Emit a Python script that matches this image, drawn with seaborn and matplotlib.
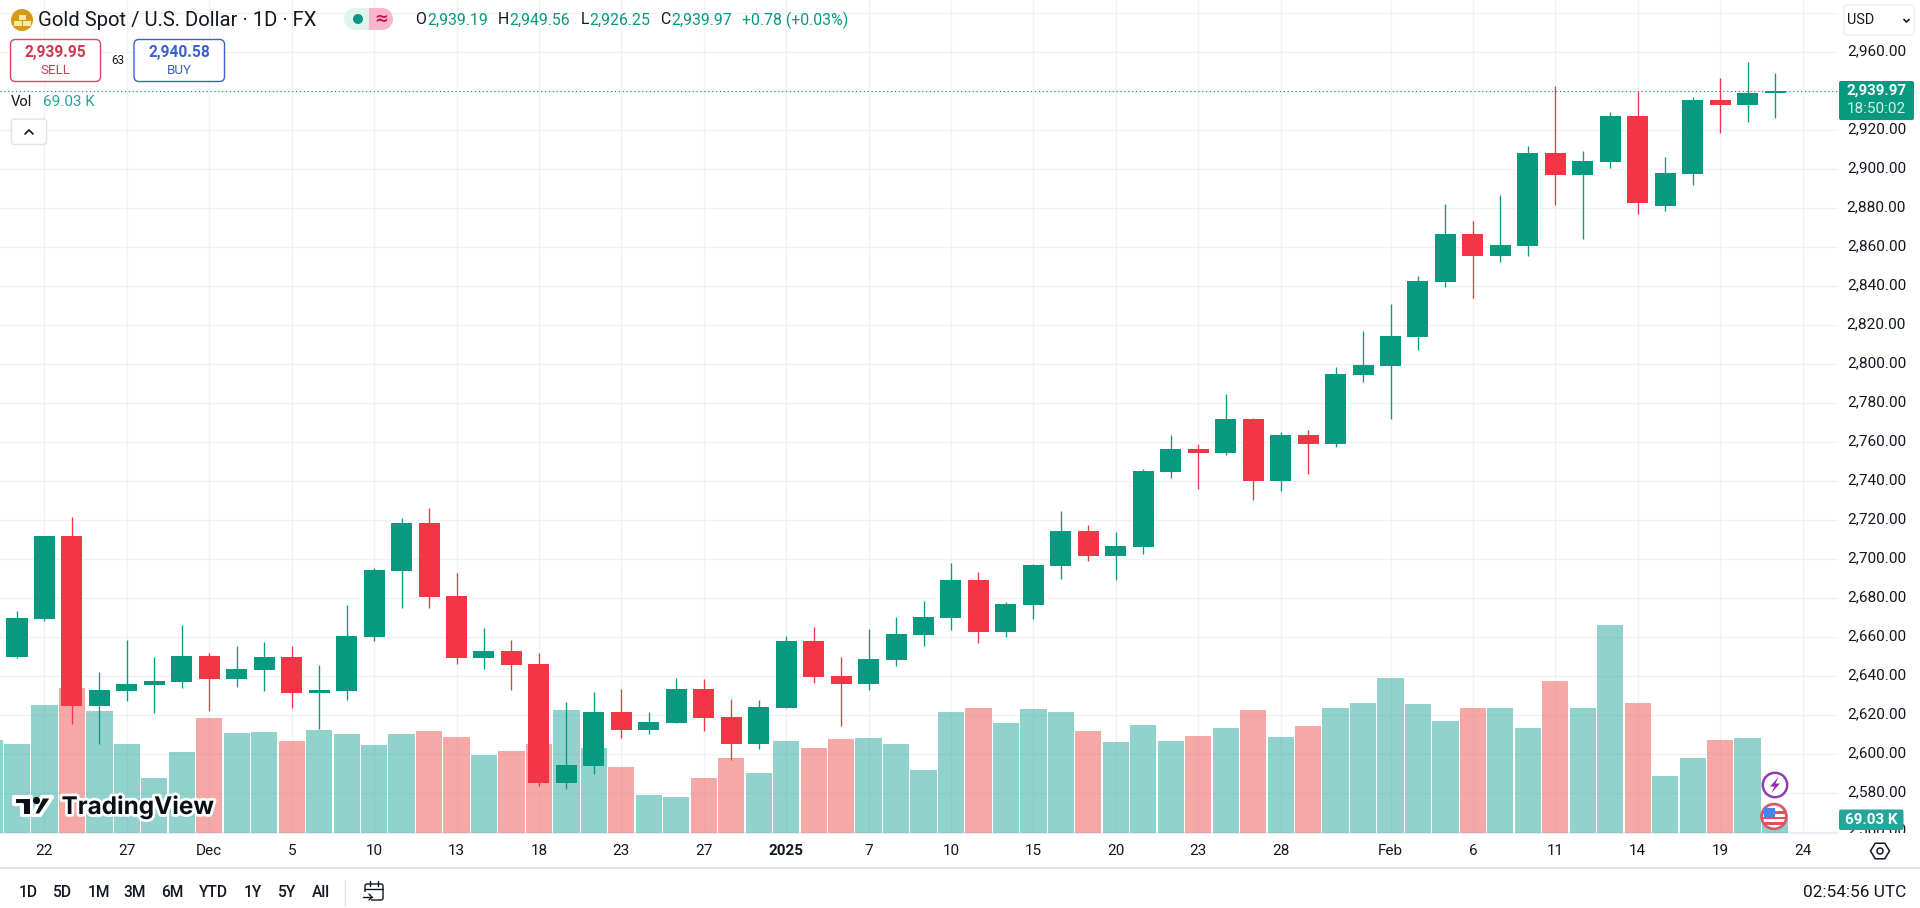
import matplotlib
matplotlib.use("Agg")
import matplotlib.pyplot as plt
import matplotlib.patheffects as pe
from matplotlib.patches import Circle, FancyBboxPatch, Polygon, Rectangle, Wedge
from matplotlib.transforms import ScaledTranslation
import numpy as np
import pandas as pd
import seaborn as sns

# Daily candles, 21 Nov 2024 to 21 Feb 2025
opens = [2650.1, 2669.6, 2712.0, 2624.8, 2632.5, 2635.6, 2637.1, 2650.4, 2638.6, 2643.3,
         2649.9, 2631.5, 2632.5, 2660.4, 2694.2, 2718.6, 2681.2, 2649.4, 2653.0, 2646.3,
         2585.3, 2594.0, 2621.7, 2612.5, 2616.1, 2633.5, 2619.1, 2605.3, 2623.8, 2658.1,
         2640.2, 2636.1, 2648.4, 2661.2, 2669.9, 2689.4, 2662.7, 2676.6, 2696.6, 2714.5,
         2701.7, 2706.3, 2744.8, 2756.6, 2754.5, 2772.0, 2740.2, 2763.8, 2759.2, 2794.5,
         2799.1, 2814.0, 2842.2, 2866.8, 2855.5, 2860.6, 2908.3, 2897.1, 2903.7, 2927.3,
         2881.2, 2897.6, 2935.5, 2933.0, 2939.19]
highs = [2673.7, 2712.0, 2721.9, 2642.2, 2658.6, 2649.9, 2666.3, 2651.8, 2655.6, 2657.6,
         2655.6, 2645.8, 2676.6, 2695.6, 2721.2, 2726.3, 2693.0, 2664.8, 2658.6, 2652.0,
         2626.9, 2632.0, 2633.5, 2621.7, 2639.1, 2638.6, 2628.4, 2627.9, 2660.7, 2665.3,
         2649.9, 2664.3, 2670.4, 2678.6, 2698.1, 2693.5, 2678.1, 2697.6, 2724.8, 2717.6,
         2714.0, 2746.3, 2763.8, 2759.1, 2785.0, 2772.5, 2765.3, 2766.3, 2798.7, 2817.1,
         2830.9, 2845.3, 2882.2, 2873.5, 2886.8, 2911.9, 2942.7, 2909.4, 2929.4, 2940.1,
         2906.3, 2937.0, 2946.8, 2955.0, 2949.56]
lows = [2649.2, 2668.6, 2615.6, 2605.3, 2627.4, 2621.4, 2634.2, 2622.4, 2634.7, 2632.5,
        2623.8, 2613.0, 2627.9, 2658.1, 2675.1, 2675.1, 2646.3, 2643.8, 2633.0, 2583.8,
        2582.2, 2589.9, 2608.4, 2610.4, 2616.0, 2612.0, 2597.1, 2602.7, 2623.8, 2636.6,
        2614.5, 2633.0, 2645.3, 2655.5, 2663.8, 2657.1, 2660.2, 2669.4, 2689.9, 2699.1,
        2689.4, 2702.7, 2741.7, 2736.1, 2753.5, 2730.4, 2735.0, 2743.8, 2757.6, 2791.0,
        2772.0, 2807.3, 2839.6, 2834.0, 2852.4, 2855.5, 2881.7, 2864.2, 2900.6, 2877.1,
        2878.6, 2891.9, 2918.6, 2924.2, 2926.25]
closes = [2669.9, 2712.0, 2624.8, 2633.0, 2636.1, 2637.8, 2650.4, 2638.6, 2643.8, 2649.9,
          2631.6, 2633.0, 2660.7, 2694.5, 2718.6, 2680.7, 2649.4, 2653.0, 2645.8, 2585.3,
          2594.5, 2621.7, 2612.5, 2616.6, 2633.5, 2618.6, 2605.3, 2624.3, 2658.1, 2639.6,
          2636.1, 2648.9, 2661.7, 2670.4, 2689.4, 2662.7, 2677.1, 2697.1, 2714.5, 2701.7,
          2706.8, 2745.3, 2756.6, 2754.5, 2772.0, 2740.2, 2763.8, 2759.2, 2795.1, 2799.6,
          2814.5, 2842.7, 2866.8, 2855.5, 2861.2, 2908.3, 2897.1, 2904.2, 2927.3, 2882.7,
          2898.1, 2935.5, 2933.0, 2939.1, 2939.97]

# Volume in thousands, first value is the cut off bar at the left edge
volumes = [467, 447, 644, 729, 613, 447, 276, 407, 578, 502, 508, 462, 518, 497, 442, 497,
           513, 482, 392, 412, 447, 618, 427, 331, 190, 180, 276, 376, 301, 462, 427, 472,
           477, 447, 316, 608, 628, 553, 623, 608, 513, 457, 543, 462, 487, 528, 618, 482,
           538, 628, 654, 780, 649, 563, 628, 628, 528, 765, 628, 1047, 654, 286, 376, 467,
           477, 69.03]
volume_up = [1, 1, 1, 0, 1, 1, 1, 1, 0, 1, 1, 0, 1, 1, 1, 1, 0, 0, 1, 0, 0, 1, 1, 0, 1, 1,
             0, 0, 1, 1, 0, 0, 1, 1, 1, 1, 0, 1, 1, 1, 0, 1, 1, 1, 0, 1, 0, 1, 0, 1, 1, 1, 1,
             1, 0, 1, 1, 0, 1, 1, 0, 1, 1, 0, 1, 1]

tick_bars = [1, 4, 7, 10, 13, 16, 19, 22, 25, 28, 31, 34, 37, 40, 43, 46, 50, 53, 56, 59, 62, 65]
tick_labels = ["22", "27", "Dec", "5", "10", "13", "18", "23", "27", "2025", "7", "10", "15",
               "20", "23", "28", "Feb", "6", "11", "14", "19", "24"]
price_levels = list(range(2560, 2981, 20))
ranges = ["1D", "5D", "1M", "3M", "6M", "YTD", "1Y", "5Y", "All"]

GREEN = "#089981"
RED = "#f23645"
TEAL = "#26a69a"
INK = "#131722"
GRID = "#f1f2f5"

sns.set_theme(style="white")
plt.rcParams["font.family"] = ["Roboto", "DejaVu Sans"]

W, H = 1920, 908
PANE_R, PANE_B = 1838, 832.7
fig = plt.figure(figsize=(19.2, 9.08), dpi=100, facecolor="white")
pos = [0, 1 - PANE_B / H, PANE_R / W, PANE_B / H]

ax_bg = fig.add_axes(pos, zorder=1)
ax_vol = fig.add_axes(pos, zorder=2, sharex=ax_bg)
ax_price = fig.add_axes(pos, zorder=3, sharex=ax_bg)
ov = fig.add_axes([0, 0, 1, 1], zorder=4)

xlim = (-17 / 27.47, (PANE_R - 17) / 27.47)
ylim = (2960 - (PANE_B - 52.3) / 1.95, 2960 + 52.3 / 1.95)

# grid and the two axes of tick labels
ax_bg.set_xlim(xlim)
ax_bg.set_ylim(ylim)
ax_bg.set_xticks(tick_bars)
ax_bg.set_xticklabels(tick_labels, fontsize=11, color=INK)
ax_bg.get_xticklabels()[tick_labels.index("2025")].set_fontweight("bold")
ax_bg.set_yticks(price_levels)
ax_bg.set_yticklabels(["" if p in (2560, 2980) else f"{p:,.2f}" for p in price_levels],
                      fontsize=11.1, color=INK, ha="right")
ax_bg.yaxis.tick_right()
ax_bg.tick_params(axis="y", length=0, pad=49)
ax_bg.tick_params(axis="x", length=0, pad=8)
ax_bg.grid(True, color=GRID, linewidth=1)
# price labels sit a little above their grid line
nudge = ScaledTranslation(0, 3 / 100, fig.dpi_scale_trans)
for lbl in ax_bg.get_yticklabels():
    lbl.set_transform(lbl.get_transform() + nudge)
for side in ["top", "left", "right"]:
    ax_bg.spines[side].set_visible(False)
ax_bg.spines["bottom"].set_color("#e9ecf3")

# volume bars
bars = np.arange(-1, len(closes))
df_vol = pd.DataFrame({"bar": bars, "volume": volumes,
                       "side": ["up" if u else "down" for u in volume_up]})
sns.barplot(data=df_vol, x="bar", y="volume", hue="side", native_scale=True, dodge=False,
            palette={"up": TEAL, "down": "#ef5350"}, alpha=0.5, saturation=1, width=0.955,
            linewidth=0, legend=False, ax=ax_vol)
ax_vol.set_ylim(0, PANE_B * 5.04)
ax_vol.set_xlim(xlim)
ax_vol.patch.set_visible(False)
ax_vol.axis("off")

# candles
df = pd.DataFrame({"bar": bars[1:], "open": opens, "high": highs, "low": lows, "close": closes})
df["color"] = np.where(df["close"] >= df["open"], GREEN, RED)
ax_price.vlines(df["bar"], df["low"], df["high"], colors=df["color"], linewidth=0.95)
ax_price.bar(df["bar"], (df["close"] - df["open"]).abs(), bottom=df[["open", "close"]].min(axis=1),
             width=0.765, color=df["color"], linewidth=0)
ax_price.axhline(closes[-1], color=GREEN, linestyle=(0, (1, 2.5)), linewidth=0.8, zorder=0)
ax_price.set_xlim(xlim)
ax_price.set_ylim(ylim)
ax_price.patch.set_visible(False)
ax_price.axis("off")

# everything else is page furniture, in pixel coordinates
ov.set_xlim(0, W)
ov.set_ylim(H, 0)
ov.patch.set_visible(False)
ov.axis("off")


def label(x, y, s, size=11, color=INK, ha="left", weight="normal", **kw):
    return ov.text(x, y, s, fontsize=size, color=color, ha=ha, va="center",
                   fontweight=weight, **kw)


def box(x0, y0, x1, y1, fc="none", ec="none", lw=1, r=3, zorder=1):
    ov.add_patch(FancyBboxPatch((x0 + r, y0 + r), x1 - x0 - 2 * r, y1 - y0 - 2 * r,
                                boxstyle=f"round,pad={r},rounding_size={r}",
                                fc=fc, ec=ec, lw=lw, zorder=zorder))


# header
ov.add_patch(Circle((22, 20), 11, fc="#d49a12", ec="none"))
for bx, by in [(18.5, 14.5), (14, 21), (23, 21)]:
    ov.add_patch(Rectangle((bx, by), 7.5, 5, fc="#f8e7b0", ec="none"))
label(38.5, 20, "Gold Spot / U.S. Dollar · 1D · FX", size=14.6)

ov.add_patch(Wedge((355, 19), 11, 90, 270, fc="#dff3ef", ec="none"))
ov.add_patch(Rectangle((355, 8), 14, 22, fc="#dff3ef", ec="none"))
ov.add_patch(Rectangle((369, 8), 13, 22, fc="#f9b6cc", ec="none"))
ov.add_patch(Wedge((382, 19), 11, -90, 90, fc="#f9b6cc", ec="none"))
ov.add_patch(Circle((358, 19), 5, fc=GREEN, ec="none"))
label(381, 19, "≈", size=12, color="#c2185b", ha="center", weight="bold", family="DejaVu Sans")

for x, key, xv, val in [(415, "O", 427, "2,939.19"), (498, "H", 509.5, "2,949.56"),
                        (580.5, "L", 589, "2,926.25"), (660, "C", 671.5, "2,939.97")]:
    label(x, 20, key, size=11.4)
    label(xv, 20, val, color=GREEN, size=11.4)
label(741.5, 20, "+0.78 (+0.03%)", color=GREEN, size=11.4)

box(10.5, 39.5, 100.5, 81.5, fc="white", ec="#d8475c", lw=1, r=5)
box(134, 39.5, 224.5, 81.5, fc="white", ec="#3a62c4", lw=1, r=5)
label(55, 53, "2,939.95", color="#d0384f", ha="center", weight="bold", size=11.2)
label(55, 70.5, "SELL", color="#d0384f", ha="center", size=9.6)
label(179.5, 53, "2,940.58", color="#3b5fcf", ha="center", weight="bold", size=11.2)
label(179.5, 70.5, "BUY", color="#3b5fcf", ha="center", size=9.6)
label(117.5, 60, "63", size=8.4, ha="center")

label(11, 102, "Vol", size=10.6)
label(43, 102, "69.03 K", color=TEAL, size=11)
box(11.5, 119, 46.5, 144.5, fc="white", ec="#e0e3eb", lw=1, r=3)
ov.plot([25, 29, 33], [134, 130, 134], color=INK, lw=1.2)

# right hand price scale furniture
box(1844, 5, 1914.5, 35, fc="white", ec="#eceef3", lw=1, r=4)
label(1847.5, 20.5, "USD", size=10.4)
ov.plot([1904, 1906.5, 1909], [19.5, 22, 19.5], color=INK, lw=1.2)
box(1839, 81, 1914, 120, fc=GREEN, r=2)
label(1906.5, 90.8, "2,939.97", color="white", ha="right", weight="bold", size=11)
label(1906.5, 108.8, "18:50:02", color="#d5f0ea", ha="right", size=11)

# 2,560.00 is cut by the bottom of the pane and hidden by the volume label
cut = label(1906.5, 830, f"{price_levels[0]:,.2f}", ha="right", size=11.1, zorder=2)
cut.set_clip_path(Rectangle((1839, 0), 81, PANE_B, transform=ov.transData))
cut.set_clip_on(True)
box(1839, 809.5, 1903.5, 830, fc=TEAL, r=2, zorder=3)
label(1871.5, 819.8, "69.03 K", color="white", ha="center", weight="bold", size=11, zorder=4)

# TradingView watermark
halo = [pe.withStroke(linewidth=4, foreground="white")]
for pts in [[(14, 797), (31, 797), (31, 815), (22, 815), (22, 804), (14, 804)],
            [(42, 797), (52, 797), (40, 815), (33, 815)]]:
    ov.add_patch(Polygon(pts, closed=True, fc="#0c0e15", ec="white", lw=2.2, joinstyle="round",
                         path_effects=[pe.Stroke(linewidth=3, foreground="white"), pe.Normal()]))
ov.add_patch(Circle((36.5, 800.5), 3.6, fc="#0c0e15", ec="none", zorder=5))
label(61.5, 806.5, "TradingView", size=17.5, color="#0c0e15", weight="bold", family="Inter",
      path_effects=halo)

# event badges on the last bar
ov.add_patch(Circle((1775, 785), 12.2, fc="white", ec="#8e3fae", lw=1.8))
ov.add_patch(Polygon([(1778.5, 777), (1770, 786.5), (1774.5, 786.5), (1771.5, 793),
                      (1780, 783.5), (1775.5, 783.5)], closed=True, fc="#9c27b0", ec="none"))
badge = Circle((1774, 816.5), 12.4, fc="white", ec="#d9596a", lw=2)
ov.add_patch(badge)
for sy in [811, 816.5, 822]:
    ov.add_patch(Rectangle((1761, sy), 26, 2.8, fc="#e0505f", ec="none", clip_path=badge))
ov.add_patch(Rectangle((1764, 808), 11, 9.5, fc="#4a84e8", ec="none", clip_path=badge))

# settings hexagon on the time scale
ang = np.deg2rad(np.arange(0, 360, 60))
ov.add_patch(Polygon(np.column_stack([1880 + 9.5 * np.cos(ang), 851 + 9 * np.sin(ang)]),
                     closed=True, fc="none", ec=INK, lw=1.1))
ov.add_patch(Circle((1880, 851), 3, fc="none", ec=INK, lw=1.1))

# bottom toolbar
ov.plot([0, W], [868, 868], color="#e0e3eb", lw=1.4)
for x, r in zip([28, 62.5, 99, 135, 172, 213, 253, 287.5, 321], ranges):
    label(x, 892.7, r, ha="center", weight="medium", size=11.2)
ov.plot([345, 345], [880, 906], color="#e0e3eb", lw=1)
ov.add_patch(FancyBboxPatch((365, 884), 18, 16, boxstyle="round,pad=0,rounding_size=2",
                            fc="none", ec=INK, lw=1))
ov.plot([365, 383], [888.5, 888.5], color=INK, lw=1)
ov.plot([370, 370], [881, 886], color=INK, lw=1)
ov.plot([378, 378], [881, 886], color=INK, lw=1)
ov.add_patch(Rectangle((362, 892), 9, 11, fc="white", ec="none"))
ov.plot([363, 372], [897, 897], color=INK, lw=1)
ov.plot([369, 372, 369], [894, 897, 900], color=INK, lw=1)
label(1906.5, 892.7, "02:54:56 UTC", ha="right", size=12.4)

fig.savefig("out.png", dpi=100, facecolor="white")
